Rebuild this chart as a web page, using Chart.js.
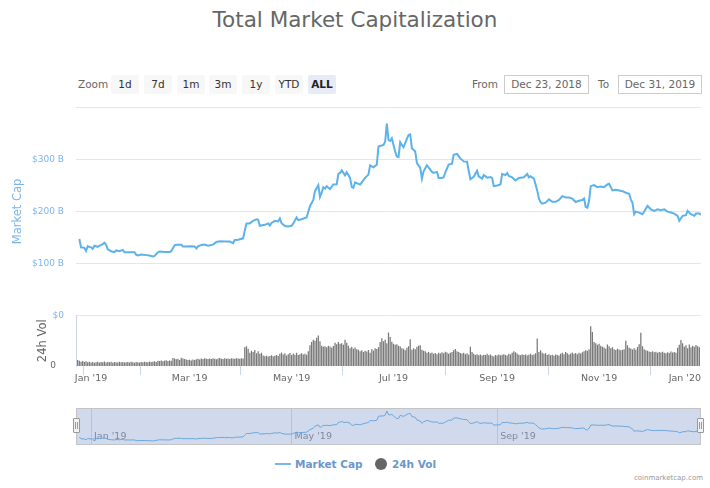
<!DOCTYPE html>
<html>
<head>
<meta charset="utf-8">
<title>Total Market Capitalization</title>
<script src="https://cdn.jsdelivr.net/npm/chart.js@4.4.1/dist/chart.umd.min.js"></script>
<style>
    body { margin: 0; background: #fff; font-family: "DejaVu Sans", sans-serif; }
    #wrap { position: relative; width: 710px; height: 488px; overflow: hidden; background: #fff; }
    .abs { position: absolute; white-space: nowrap; }
    #title { left: 0; top: 7px; width: 710px; text-align: center; font-size: 21.5px; line-height: 25px; color: #666; }
    .lbl { font-size: 10.5px; color: #666; line-height: 19px; top: 75px; }
    .btn { top: 75px; width: 28px; height: 19px; line-height: 19px; text-align: center; font-size: 10.5px; color: #333; background: #f7f7f7; border-radius: 2px; }
    .btn.on { background: #e6ebf5; font-weight: bold; color: #222; }
    .date { top: 75px; height: 19px; line-height: 17px; box-sizing: border-box; border: 1px solid #ccc; text-align: center; font-size: 10.5px; color: #666; }
    #main { position: absolute; left: 0; top: 90px; }
    #navbg { left: 76px; top: 408px; width: 625px; height: 37px; box-sizing: border-box; background: #d1daed; border: 1px solid #c4c4c4; }
    #nav { position: absolute; left: 0; top: 408px; }
    .handle { top: 418px; width: 7px; height: 15px; box-sizing: border-box; border: 1px solid #999; border-radius: 1px;
        background: linear-gradient(to right, transparent 1px, #999 1px, #999 2px, transparent 2px, transparent 3px, #999 3px, #999 4px, transparent 4px) no-repeat 0 3px / 5px 7px, #f2f2f2; }
    .leg { top: 457px; font-size: 10.5px; font-weight: bold; color: #6a96cc; line-height: 14px; }
    #credits { right: 7px; top: 474px; font-size: 7px; color: #999; }
</style>
</head>
<body>
<div id="wrap">
    <div id="title" class="abs">Total Market Capitalization</div>

    <div class="abs lbl" style="left:78px">Zoom</div>
    <div class="abs btn" style="left:111px">1d</div>
    <div class="abs btn" style="left:144px">7d</div>
    <div class="abs btn" style="left:177px">1m</div>
    <div class="abs btn" style="left:209px">3m</div>
    <div class="abs btn" style="left:242px">1y</div>
    <div class="abs btn" style="left:275px">YTD</div>
    <div class="abs btn on" style="left:308px">ALL</div>

    <div class="abs lbl" style="left:472px">From</div>
    <div class="abs date" style="left:504px;width:85px">Dec 23, 2018</div>
    <div class="abs lbl" style="left:598px">To</div>
    <div class="abs date" style="left:618px;width:84px">Dec 31, 2019</div>

    <canvas id="main" width="710" height="300"></canvas>

    <div id="navbg" class="abs"></div>
    <canvas id="nav" width="710" height="37"></canvas>
    <div class="abs handle" style="left:73px"></div>
    <div class="abs handle" style="left:697px"></div>

    <div class="abs" style="left:275px;top:463px;width:16px;height:2px;background:#7cb5ec"></div>
    <div class="abs leg" style="left:295px">Market Cap</div>
    <div class="abs" style="left:375px;top:458px;width:12px;height:12px;border-radius:50%;background:#666"></div>
    <div class="abs leg" style="left:392px">24h Vol</div>
    <div id="credits" class="abs">coinmarketcap.com</div>
</div>

<script>
// jours depuis le 23 déc. 2018 -> capitalisation (milliards $)
const mcDays = [2, 3, 5, 6, 7, 9, 10, 11, 13, 14, 16, 17, 18, 19, 21, 23, 24, 26, 28, 29,
    32, 35, 36, 37, 39, 42, 44, 46, 47, 49, 50, 53, 56, 57, 59, 60, 63, 64, 66, 68,
    71, 72, 73, 75, 77, 79, 82, 84, 86, 89, 92, 94, 95, 97, 100, 101, 102, 104, 106, 108,
    109, 110, 113, 115, 116, 117, 119, 121, 122, 123, 125, 127, 129, 130, 132, 133, 135, 138, 140, 142,
    143, 145, 146, 147, 148, 149, 150, 152, 154, 156, 157, 158, 159, 161, 162, 164, 165, 166, 167, 169,
    170, 171, 173, 175, 176, 178, 180, 181, 184, 185, 186, 187, 188, 189, 191, 192, 193, 194, 195, 196,
    198, 199, 200, 201, 203, 204, 206, 207, 208, 210, 211, 213, 214, 216, 217, 219, 220, 221, 223, 225,
    226, 228, 230, 232, 234, 235, 236, 238, 240, 241, 243, 244, 246, 248, 249, 250, 252, 254, 255, 257,
    258, 259, 261, 263, 265, 268, 270, 271, 272, 274, 275, 276, 277, 278, 279, 281, 283, 285, 287, 289,
    291, 293, 295, 297, 299, 301, 303, 304, 305, 306, 307, 308, 310, 312, 314, 316, 318, 319, 321, 323,
    325, 327, 329, 331, 332, 333, 334, 335, 337, 339, 340, 342, 344, 346, 348, 350, 352, 354, 356, 358,
    360, 361, 363, 365, 366, 368, 370, 371, 373, 374];
const mcValues = [147, 131, 130, 124, 133, 131, 128, 134, 132, 134, 137, 140, 136, 127, 123.5, 121.6, 125, 123.5, 126, 121.6,
    121.6, 121.6, 117, 115.3, 117, 116, 115.3, 113.4, 114.6, 121.6, 123, 122, 122, 123.5, 135, 136, 136, 132.4, 132.4, 133,
    132.4, 129, 133, 135.6, 136.2, 134.3, 136.2, 141.3, 142.6, 142, 142, 138.8, 145, 145.7, 148.3, 163, 177, 177, 182, 185,
    184, 172.4, 174.3, 177, 173, 178, 182, 180.7, 186.4, 177.5, 171.8, 171, 172.4, 177, 188.3, 183.2, 185, 188.3, 210, 222,
    239, 250.5, 228, 236, 246.7, 244, 248.6, 243, 251.8, 252, 272, 274, 279, 269.5, 275.3, 264.5, 247.3, 245.4, 256, 253,
    251.8, 256, 264.5, 270.8, 288.6, 284.8, 290, 324.8, 328, 334, 369, 337.5, 335.6, 340.7, 315, 305.7, 304.5, 333, 328, 323.5,
    339.4, 347, 348.3, 321.6, 315.3, 293, 283.5, 263, 277, 288.6, 284.8, 276, 274, 276, 264.5, 264.5, 265.7, 275.3, 290, 291.8,
    309, 310.5, 302, 296.2, 295.5, 278, 262, 266.5, 278, 267.6, 263, 270, 265, 266, 264.5, 248.6, 250, 252, 272, 270,
    274, 268, 265.7, 259.4, 264.5, 265.7, 272, 265.7, 267.6, 263.2, 252, 240, 225, 218, 215, 216.8, 223.2, 218.4, 218.4, 222,
    229.5, 227, 227, 224.5, 218.1, 220.5, 222, 225, 208.6, 207.3, 220, 248.6, 250.5, 246.7, 248, 246.7, 251.8, 253, 240.3, 241.6,
    240.3, 239, 235.9, 234, 223.2, 216.8, 194.6, 199.7, 197.8, 194.6, 199.7, 210.5, 204.1, 201, 204.1, 202.2, 204.1, 199.7, 197.8, 195.9,
    191.5, 182, 191.5, 192.7, 201, 194.6, 191.5, 195.9, 195.9, 193.4];

// volume 24h, un par jour à partir du 23 déc. 2018 (milliards $)
const volume = [0, 24, 21, 17, 20, 16, 19, 15, 17, 14,
    16, 13, 15, 17, 14, 16, 15, 18, 14, 16,
    15, 17, 13, 16, 15, 14, 17, 15, 16, 14,
    15, 16, 14, 17, 15, 13, 16, 15, 14, 16,
    15, 17, 16, 15, 18, 16, 17, 19, 16, 21,
    20, 22, 19, 21, 23, 20, 22, 21, 32, 30,
    27, 29, 24, 33, 30, 28, 26, 24, 25, 22,
    26, 24, 27, 29, 26, 30, 28, 31, 29, 28,
    30, 28, 31, 29, 27, 30, 32, 29, 28, 31,
    29, 30, 28, 31, 30, 29, 31, 30, 29, 31,
    30, 74, 78, 68, 52, 60, 55, 63, 50, 58,
    48, 52, 42, 39, 41, 38, 40, 43, 39, 41,
    44, 40, 48, 53, 46, 50, 42, 47, 51, 44,
    49, 45, 52, 44, 47, 50, 46, 48, 45, 58,
    82, 95, 104, 100, 112, 121, 98, 80, 76, 78,
    74, 80, 77, 72, 79, 92, 86, 95, 88, 90,
    84, 104, 92, 80, 70, 76, 68, 73, 66, 64,
    58, 62, 55, 60, 57, 63, 52, 66, 61, 70,
    67, 74, 95, 110, 98, 104, 90, 133, 115, 96,
    88, 84, 86, 80, 77, 70, 68, 62, 72, 78,
    106, 64, 70, 66, 76, 80, 82, 64, 60, 58,
    52, 55, 50, 53, 48, 51, 47, 52, 49, 54,
    50, 56, 53, 48, 52, 55, 62, 67, 58, 55,
    51, 49, 52, 47, 50, 45, 76, 55, 48, 44,
    47, 43, 46, 42, 45, 44, 48, 43, 46, 41,
    38, 44, 42, 46, 43, 45, 47, 44, 42, 48,
    46, 52, 58, 54, 49, 45, 43, 47, 44, 46,
    42, 45, 48, 44, 46, 50, 109, 55, 62, 52,
    48, 50, 44, 47, 43, 45, 41, 46, 44, 42,
    48, 52, 47, 55, 50, 46, 49, 53, 48, 51,
    47, 52, 49, 54, 58, 62, 60, 66, 157, 135,
    95, 90, 84, 88, 80, 76, 73, 68, 85, 78,
    70, 74, 66, 63, 68, 65, 62, 64, 66, 100,
    82, 72, 69, 65, 70, 64, 75, 86, 132, 78,
    66, 62, 60, 57, 55, 58, 54, 56, 52, 55,
    53, 56, 52, 50, 54, 51, 57, 53, 55, 52,
    72, 84, 103, 90, 76, 82, 70, 85, 74, 80,
    76, 83, 78, 74];

const mcTicks = [0, 100, 200, 300, 400];
const mcTickLabels = ['$0', '$100 B', '$200 B', '$300 B', ''];
const volTicks = [0];
const volTickLabels = ['0'];
const monthTicks = [0, 9, 68, 129, 190, 252, 313, 374];
const monthLabels = ['', "Jan '19", "Mar '19", "May '19", "Jul '19", "Sep '19", "Nov '19", "Jan '20"];
const navTicks = [9, 129, 252];
const navLabels = [" Jan '19", " May '19", " Sep '19"];

Chart.defaults.font.family = '"DejaVu Sans", sans-serif';

const lineColor = '#5cb2ea';
const mcPoints = mcDays.map((d, i) => ({ x: d, y: mcValues[i] }));
const volPoints = volume.map((v, i) => ({ x: i, y: v }));

new Chart(document.getElementById('main'), {
    type: 'line',
    data: {
        datasets: [
            {
                type: 'line', label: 'Market Cap', data: mcPoints, yAxisID: 'y',
                borderColor: lineColor, borderWidth: 2, pointRadius: 0, tension: 0, order: 0
            },
            {
                type: 'bar', label: '24h Vol', data: volPoints, yAxisID: 'yVol',
                backgroundColor: '#787878', barPercentage: 0.75, categoryPercentage: 1, order: 1
            }
        ]
    },
    options: {
        responsive: false,
        animation: false,
        layout: { padding: { top: 15, right: 9, left: 0, bottom: 0 } },
        plugins: { legend: { display: false }, tooltip: { enabled: false } },
        scales: {
            x: {
                type: 'linear', min: 0, max: 374, offset: false,
                afterBuildTicks: s => { s.ticks = monthTicks.map(v => ({ value: v })); },
                afterFit: s => { s.height = 24; },
                ticks: {
                    callback: (v, i) => monthLabels[i], autoSkip: false, maxRotation: 0,
                    align: 'inner', padding: -2, color: '#666', font: { size: 9.5 }
                },
                grid: {
                    drawOnChartArea: false, tickLength: 9,
                    tickColor: c => (c.index === 0 ? 'rgba(0,0,0,0)' : '#ccd6eb')
                },
                border: { display: false }
            },
            yVol: {
                position: 'left', stack: 'panes', stackWeight: 51, min: 0, max: 200,
                afterBuildTicks: s => { s.ticks = volTicks.map(v => ({ value: v })); },
                afterFit: s => { s.width = 76; },
                ticks: { callback: (v, i) => volTickLabels[i], color: '#666', font: { size: 9 }, padding: 12 },
                grid: { display: false },
                border: { display: true, color: '#ccd6eb' },
                title: { display: true, text: '24h Vol', color: '#666', font: { size: 11.5 }, padding: { top: 36, bottom: 0 } }
            },
            y: {
                position: 'left', stack: 'panes', stackWeight: 210, min: 0, max: 400,
                afterBuildTicks: s => { s.ticks = mcTicks.map(v => ({ value: v })); },
                afterFit: s => { s.width = 76; },
                ticks: { callback: (v, i) => mcTickLabels[i], color: '#7cb5ec', font: { size: 9 }, padding: 12 },
                grid: { color: '#e6e6e6', drawTicks: false },
                border: { display: false },
                title: { display: true, text: 'Market Cap', color: '#7cb5ec', font: { size: 11.5 }, padding: { top: 11, bottom: 0 } }
            }
        }
    }
});

// navigateur en bas
new Chart(document.getElementById('nav'), {
    type: 'line',
    data: {
        datasets: [{
            data: mcPoints, borderColor: '#6aa6de', borderWidth: 1, pointRadius: 0, tension: 0
        }]
    },
    options: {
        responsive: false,
        animation: false,
        layout: { padding: { top: 0, right: 9, left: 76, bottom: 1 } },
        plugins: { legend: { display: false }, tooltip: { enabled: false } },
        scales: {
            x: {
                type: 'linear', min: 0, max: 374,
                afterBuildTicks: s => { s.ticks = navTicks.map(v => ({ value: v })); },
                afterFit: s => { s.height = 0; },
                ticks: {
                    callback: (v, i) => navLabels[i], autoSkip: false, maxRotation: 0, mirror: true,
                    align: 'start', padding: 2, color: '#80889a', font: { size: 9.5 }
                },
                grid: { color: '#b9c3d8', drawTicks: false },
                border: { display: false }
            },
            y: { display: false, min: 87, max: 395 }
        }
    }
});
</script>
</body>
</html>
